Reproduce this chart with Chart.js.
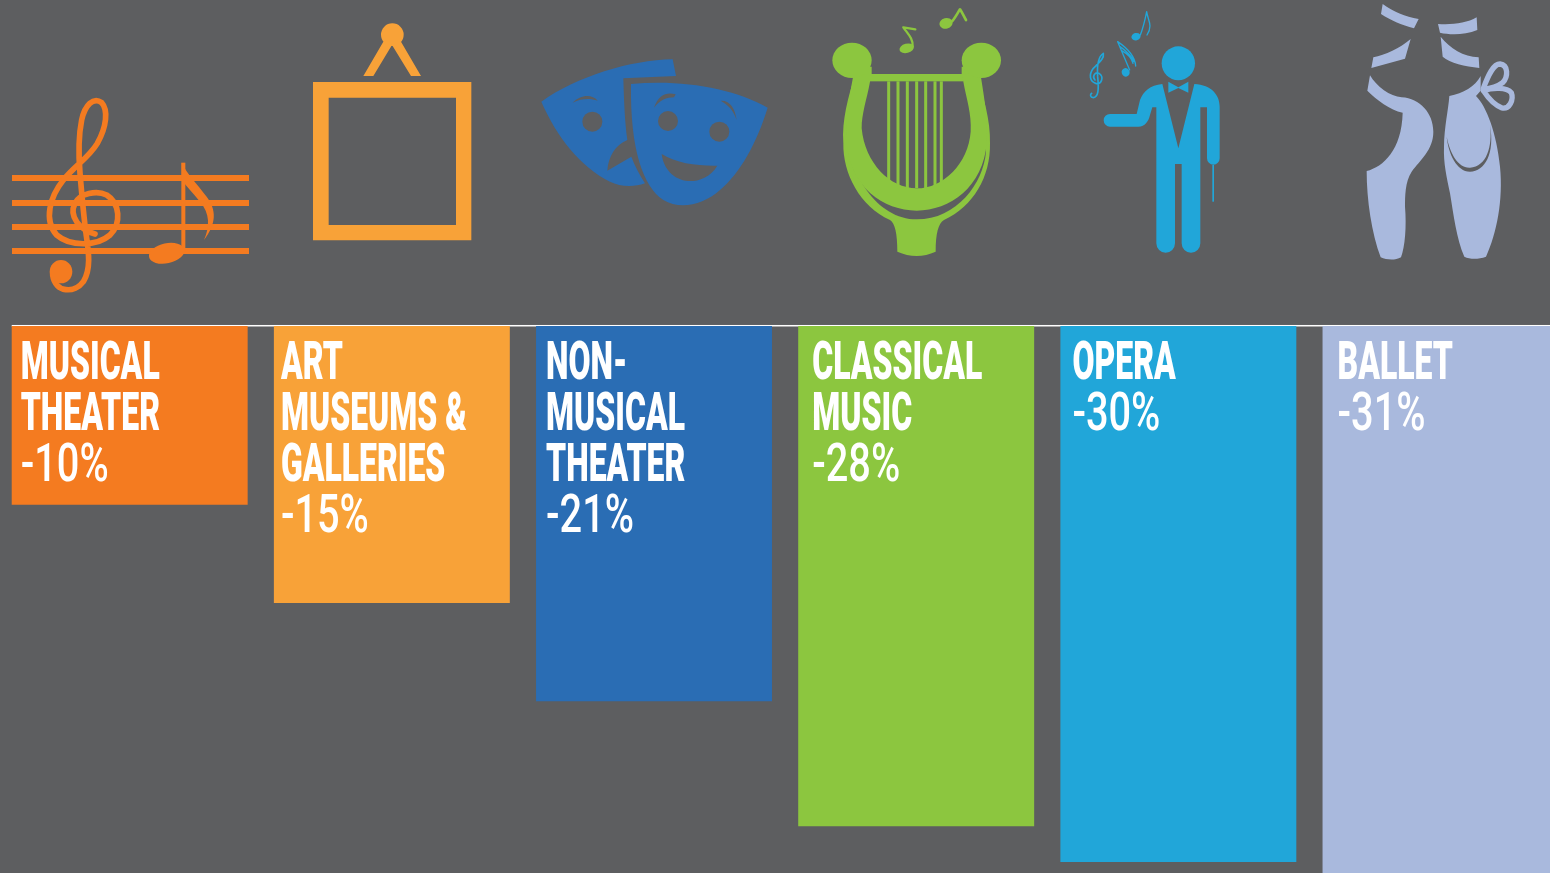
<!DOCTYPE html>
<html>
<head>
<meta charset="utf-8">
<title>Attendance decline by art form</title>
<script src="https://cdn.jsdelivr.net/npm/chart.js@4"></script>
<style>
  html, body { margin: 0; height: 100%; overflow: hidden; background: #5d5e60; }
  canvas { position: absolute; left: -2px; top: 0; }
</style>
</head>
<body>
<canvas id="chart" width="1574" height="900"></canvas>
<script>
const categories = [
  ["MUSICAL", "THEATER"],
  ["ART", "MUSEUMS &", "GALLERIES"],
  ["NON-", "MUSICAL", "THEATER"],
  ["CLASSICAL", "MUSIC"],
  ["OPERA"],
  ["BALLET"]
];
const percentLabels = ["-10%", "-15%", "-21%", "-28%", "-30%", "-31%"];
// bar lengths as measured in the picture (the -15% bar is drawn a bit longer than its label)
const barValues = [-10, -15.5, -21, -28, -30, -31];
const barColors = ["#f47b20", "#f8a238", "#2a6db4", "#8cc63f", "#21a6d9", "#a9b9dd"];

const BG = "#5d5e60";
const labelInset = [9, 7, 10, 14, 12, 15];

// icons are traced at 3x, crop = top left corner of the tracing in page pixels
function ell(c, x, y, rx, ry, rot) {
  c.beginPath();
  c.ellipse(x, y, rx, ry, (rot || 0) * Math.PI / 180, 0, Math.PI * 2);
  c.fill();
}
function fillP(c, d, color) {
  if (color) c.fillStyle = color;
  c.fill(new Path2D(d));
}
function strokeP(c, d, w) {
  c.lineWidth = w;
  c.lineCap = "round";
  c.lineJoin = "round";
  c.stroke(new Path2D(d));
}

const icons = [
  { crop: [0, 80], draw(c, col) {
    c.fillRect(36, 285, 711, 18);
    c.fillRect(36, 360, 711, 18);
    c.fillRect(36, 432, 711, 18);
    c.fillRect(36, 504, 711, 18);
    // note
    c.fillRect(544, 248, 12, 270);
    fillP(c, "M545 248 C560 280 590 310 620 350 C650 390 650 430 612 480 C630 440 630 400 600 365 C580 340 560 320 545 300 Z");
    ell(c, 500, 520, 54, 30, -12);
    // clef
    strokeP(c, "M285 462 C240 450 205 410 225 370 C240 340 290 330 320 345 C360 370 365 430 330 465 C290 500 210 500 170 465 C130 420 150 350 190 300 C220 260 265 235 292 190 C320 140 325 90 305 68 C280 50 255 75 245 120 C235 170 235 220 240 280 C245 340 250 400 258 460 C265 510 275 565 250 605 C225 640 165 640 158 585", 17);
    ell(c, 183, 575, 34, 35);
  }},
  { crop: [300, 10], draw(c) {
    c.fill(new Path2D("M39 216 H514 V691 H39 Z M86 263 V645 H468 V263 Z"));
    ell(c, 277, 74, 34, 34);
    fillP(c, "M250 95 L190 198 L220 198 L276 105 L333 198 L363 198 L303 95 Z");
  }},
  { crop: [300, 10], draw(c, col) {
    fillP(c, "M724 275 C830 200 990 150 1118 148 L1128 198 L970 205 C972 280 975 340 982 390 C945 405 925 440 922 482 L994 440 C1005 470 1020 495 1035 520 C1000 532 960 530 930 515 C840 470 770 380 724 275 Z");
    fillP(c, "M993 222 C1150 208 1300 235 1403 293 C1370 400 1320 490 1260 540 C1210 585 1140 600 1090 570 C1030 530 990 420 993 222 Z");
    c.fillStyle = BG;
    ell(c, 877, 335, 30, 30);
    ell(c, 1104, 333, 30, 30);
    ell(c, 1258, 365, 30, 30);
    fillP(c, "M818 278 C840 255 875 250 893 272 C870 265 845 265 818 278 Z");
    fillP(c, "M1062 293 C1075 255 1100 245 1127 253 L1122 262 C1100 262 1080 270 1062 293 Z");
    fillP(c, "M1262 272 C1290 270 1305 295 1310 330 C1300 300 1285 285 1262 272 Z");
    fillP(c, "M1085 432 C1130 460 1190 468 1252 467 C1230 505 1190 515 1165 513 C1120 510 1090 475 1085 432 Z");
  }},
  { crop: [820, 0], draw(c, col) {
    // outer silhouette with the stand
    fillP(c, "M105 225 C85 290 65 360 70 430 C68 520 120 620 210 660 C225 670 232 700 232 755 C270 772 310 772 347 755 C347 700 355 670 372 660 C460 620 512 530 510 430 C512 360 490 290 470 225 Z");
    fillP(c, "M125 240 L455 240 L490 395 L498 455 C490 550 410 658 290 658 C170 658 85 520 82 395 Z", BG);
    c.fillStyle = col;
    c.fillRect(150, 222, 280, 22);
    [206, 234, 262, 290, 317, 345, 364].forEach(x => c.fillRect(x - 4.5, 244, 9, 320));
    fillP(c, "M105 200 L155 200 L155 222 L150 245 C140 300 125 340 125 385 C135 490 210 565 290 565 C370 565 445 490 452 395 C455 340 440 300 430 245 L425 222 L425 200 L478 200 C490 280 505 350 500 430 C490 560 390 632 290 632 C190 632 90 560 80 430 C75 350 90 280 105 200 Z");
    ell(c, 96, 181, 59, 53);
    ell(c, 484, 181, 59, 53);
    ell(c, 260, 145, 22, 14, -15);
    ell(c, 378, 70, 20, 16, -15);
    c.strokeStyle = col;
    strokeP(c, "M278 140 C280 115 262 100 250 82 L286 88", 7);
    strokeP(c, "M395 65 C405 55 412 40 420 28 C428 40 432 50 438 60", 8);
  }},
  { crop: [1075, 0], draw(c, col) {
    ell(c, 310, 190, 50, 51);
    fillP(c, "M262 252 C225 255 205 275 195 300 L185 342 L105 342 A19 19 0 0 0 105 380 L190 380 C210 380 220 365 225 345 L232 322 L244 322 L244 730 A28 28 0 0 0 300 730 L300 492 L320 492 L320 730 A28 28 0 0 0 376 730 L376 322 L396 322 L396 475 A19 19 0 0 0 434 475 L434 320 C434 285 410 255 358 252 L310 445 Z");
    fillP(c, "M280 245 L310 262 L340 245 L340 278 L310 264 L280 278 Z");
    c.fillRect(412, 495, 5, 110);
    c.strokeStyle = col;
    // notes
    ell(c, 183, 110, 14, 11, -15);
    strokeP(c, "M196 105 C204 85 210 60 215 35 C218 60 235 75 216 105", 4);
    ell(c, 152, 217, 12, 13, -15);
    strokeP(c, "M164 210 L128 125 C150 140 180 165 182 198 M135 140 C150 150 172 170 176 185 M140 152 C155 160 170 175 174 190", 4);
    // small clef
    strokeP(c, "M62 250 C45 245 40 225 55 205 C75 185 88 175 85 160 C70 170 65 190 68 230 C72 270 70 290 55 293 C45 293 45 283 50 280 M62 250 C80 255 88 230 72 220 C60 215 50 230 60 240", 5);
  }},
  { crop: [1350, 0], draw(c, col) {
    fillP(c, "M98 12 C130 35 165 50 206 57 L192 85 C155 75 120 60 93 42 Z");
    fillP(c, "M264 72 C305 75 350 70 380 52 L382 90 C345 105 300 105 270 98 Z");
    fillP(c, "M182 117 C150 145 105 165 70 172 L64 204 L165 176 Z");
    fillP(c, "M272 110 C300 145 340 170 386 172 L388 204 C345 198 300 190 278 170 Z");
    fillP(c, "M60 226 C80 260 120 290 155 292 C210 295 250 340 250 395 C250 450 210 480 185 515 C165 545 165 590 165 620 C170 680 165 740 153 772 C135 782 110 780 92 772 C65 700 50 600 50 513 C100 500 155 450 158 338 C120 330 80 300 52 272 Z");
    fillP(c, "M298 288 C340 280 375 260 392 228 L392 272 L378 288 C410 320 440 400 450 500 C460 600 440 700 408 770 C385 778 360 778 343 770 C320 720 310 640 300 580 C290 530 280 490 282 440 C283 380 295 330 298 288 Z");
    c.strokeStyle = col;
    strokeP(c, "M400 265 C415 225 430 192 450 192 C475 195 475 230 458 248 C440 262 420 266 400 268", 16);
    strokeP(c, "M400 272 C430 262 470 262 484 278 C492 300 478 328 456 324 C435 316 415 295 400 272", 16);
    fillP(c, "M290 410 C295 460 320 515 360 515 C405 515 435 460 420 375 C428 440 410 500 360 503 C325 505 300 460 290 410 Z", BG);
  }}
];

const decorPlugin = {
  id: "decor",
  beforeDatasetsDraw(chart) {
    // white zero line, runs from the first bar to the right edge
    const c = chart.ctx;
    const bars = chart.getDatasetMeta(0).data;
    const y0 = chart.scales.y.getPixelForValue(0);
    c.save();
    c.fillStyle = "#ffffff";
    c.fillRect(bars[0].x - bars[0].width / 2, y0 - 1, chart.width, 1.5);
    c.restore();
  },
  afterDatasetsDraw(chart) {
    const c = chart.ctx;
    const bars = chart.getDatasetMeta(0).data;
    const y0 = chart.scales.y.getPixelForValue(0);

    // icons
    icons.forEach((icon, i) => {
      c.save();
      c.translate(icon.crop[0] + 2, icon.crop[1]);
      c.scale(1 / 3, 1 / 3);
      c.fillStyle = barColors[i];
      c.strokeStyle = barColors[i];
      icon.draw(c, barColors[i]);
      c.restore();
    });

    // labels, squeezed sideways since no condensed display font is installed
    c.save();
    c.fillStyle = "#ffffff";
    c.textBaseline = "alphabetic";
    const nameFont = "900 54px Roboto";
    const pctFont = "500 54px Roboto";
    c.font = nameFont;
    const nameSqueeze = 139 / c.measureText("MUSICAL").width;
    c.font = pctFont;
    const pctSqueeze = 88 / c.measureText("-10%").width;
    categories.forEach((lines, i) => {
      const x = bars[i].x - bars[i].width / 2 + labelInset[i];
      const all = lines.concat(percentLabels[i]);
      all.forEach((txt, n) => {
        const isPct = n === all.length - 1;
        c.save();
        c.font = isPct ? pctFont : nameFont;
        c.translate(x, y0 + 53 + n * 51);
        c.scale(isPct ? pctSqueeze : nameSqueeze, 1);
        c.fillText(txt, 0, 0);
        c.restore();
      });
    });
    c.restore();
  }
};

new Chart(document.getElementById("chart"), {
  type: "bar",
  data: {
    labels: categories.map(l => l.join(" ")),
    datasets: [{
      data: barValues,
      backgroundColor: barColors,
      borderWidth: 0,
      categoryPercentage: 0.9,
      barPercentage: 1
    }]
  },
  options: {
    responsive: false,
    animation: false,
    layout: { padding: { left: 0.6, right: 0.4 } },
    plugins: { legend: { display: false }, tooltip: { enabled: false } },
    scales: {
      x: { display: false },
      y: { display: false, min: -32.12, max: 18.24 }
    }
  },
  plugins: [decorPlugin]
});
</script>
</body>
</html>
